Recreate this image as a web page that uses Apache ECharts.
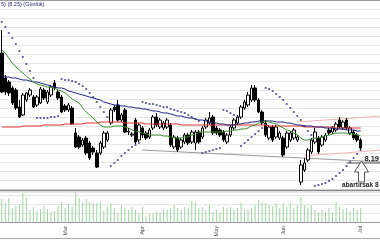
<!DOCTYPE html>
<html><head><meta charset="utf-8">
<script src="https://cdn.jsdelivr.net/npm/echarts@6/dist/echarts.min.js"></script>
<style>html,body{margin:0;padding:0;background:#fff}#c{width:380px;height:240px}</style>
</head><body><div id="c"></div>
<script>
const titleText = '5) (8.25) (Günlük)';
const monthLabels = {18:'Mar', 40:'Apr', 61:'May', 80:'Jun', 102:'Jul'};
const extraSlots = 5;
// [open, close, low, high]
const candles = [
[9.28,8.89,8.88,9.51],[9.03,8.89,8.86,9.06],[8.99,8.88,8.85,9.01],[8.93,8.78,8.76,8.95],[8.91,8.73,8.71,8.93],
[8.74,8.64,8.63,8.81],[8.66,8.86,8.65,8.88],[8.81,8.88,8.79,8.89],[8.86,8.91,8.84,8.93],[8.84,8.74,8.73,8.86],
[8.76,8.84,8.74,8.86],[8.78,8.92,8.77,8.94],[8.91,8.83,8.81,8.93],[8.79,8.89,8.77,8.91],[8.86,8.94,8.84,8.96],
[8.98,8.93,8.91,9.01],[8.89,8.83,8.81,8.91],[8.84,8.69,8.68,8.86],[8.75,8.71,8.69,8.77],[8.71,8.76,8.69,8.78],
[8.73,8.57,8.56,8.75],[8.48,8.34,8.33,8.53],[8.44,8.34,8.32,8.46],[8.36,8.41,8.34,8.43],[8.43,8.28,8.26,8.45],
[8.38,8.23,8.21,8.40],[8.33,8.29,8.26,8.35],[8.28,8.14,8.13,8.31],[8.28,8.38,8.26,8.40],[8.34,8.48,8.32,8.50],
[8.41,8.48,8.39,8.50],[8.58,8.71,8.56,8.73],[8.74,8.71,8.69,8.76],[8.76,8.61,8.59,8.81],[8.61,8.66,8.59,8.68],
[8.71,8.49,8.48,8.73],[8.49,8.50,8.46,8.53],[8.46,8.47,8.44,8.49],[8.61,8.39,8.37,8.63],[8.41,8.56,8.39,8.58],
[8.53,8.46,8.43,8.55],[8.48,8.43,8.41,8.50],[8.44,8.51,8.42,8.53],[8.53,8.64,8.51,8.66],[8.64,8.56,8.54,8.68],
[8.54,8.61,8.52,8.63],[8.53,8.58,8.51,8.60],[8.54,8.61,8.52,8.63],[8.56,8.36,8.34,8.58],[8.34,8.44,8.32,8.46],
[8.43,8.31,8.29,8.45],[8.34,8.41,8.32,8.43],[8.39,8.46,8.37,8.48],[8.46,8.38,8.36,8.48],[8.39,8.49,8.37,8.51],
[8.38,8.49,8.31,8.51],[8.49,8.39,8.37,8.51],[8.44,8.53,8.42,8.55],[8.54,8.61,8.52,8.63],[8.58,8.63,8.56,8.69],
[8.64,8.48,8.46,8.66],[8.53,8.48,8.46,8.55],[8.51,8.46,8.44,8.53],[8.49,8.41,8.39,8.51],[8.39,8.46,8.37,8.48],
[8.46,8.54,8.44,8.56],[8.53,8.61,8.51,8.63],[8.58,8.64,8.56,8.66],[8.64,8.74,8.62,8.76],[8.73,8.79,8.71,8.81],
[8.76,8.86,8.74,8.89],[8.81,8.93,8.79,8.96],[8.93,8.81,8.79,8.96],[8.81,8.69,8.68,8.83],[8.69,8.58,8.56,8.71],
[8.58,8.46,8.44,8.61],[8.43,8.54,8.41,8.56],[8.54,8.41,8.39,8.56],[8.44,8.54,8.42,8.56],[8.43,8.48,8.41,8.50],
[8.43,8.26,8.24,8.45],[8.34,8.48,8.32,8.50],[8.41,8.48,8.39,8.50],[8.43,8.51,8.41,8.53],[8.41,8.44,8.39,8.46],
[7.99,8.16,7.96,8.21],[8.11,8.18,8.09,8.23],[8.21,8.31,8.19,8.33],[8.29,8.41,8.27,8.43],[8.39,8.49,8.37,8.53],
[8.43,8.29,8.27,8.45],[8.36,8.44,8.34,8.46],[8.41,8.46,8.39,8.48],[8.51,8.48,8.46,8.53],[8.49,8.53,8.47,8.55],
[8.51,8.57,8.49,8.59],[8.61,8.54,8.52,8.64],[8.53,8.59,8.51,8.61],[8.61,8.53,8.51,8.63],[8.48,8.53,8.46,8.55],
[8.49,8.43,8.41,8.51],[8.46,8.41,8.39,8.48],[8.41,8.33,8.31,8.43]
];
const volume = [
23,19,24,14,16,18,29,24,12,15, 11,13,16,13,10,11,16,20,14,18,
15,30,24,20,23,20,19,19,20,11, 15,19,14,9,17,14,12,15,12,9,
15,6,8,9,10,9,12,12,14,17, 14,12,15,14,21,20,14,15,12,17,
10,12,10,15,14,15,12,14,19,12, 13,14,17,22,20,19,17,16,19,14,
19,15,19,14,17,25,17,14,17,12, 10,12,10,14,10,20,15,13,14,11,
14,12,14
];
const maShort = [
9.31,9.28,9.23,9.18,9.14,9.11,9.08,9.05,9.02,8.99,
8.97,8.96,8.95,8.94,8.94,8.93,8.91,8.90,8.88,8.85,
8.82,8.80,8.78,8.73,8.69,8.66,8.63,8.59,8.56,8.54,
8.54,8.54,8.55,8.55,8.55,8.54,8.53,8.51,8.50,8.49,
8.48,8.47,8.46,8.46,8.46,8.46,8.45,8.45,8.44,8.43,
8.43,8.43,8.44,8.44,8.46,8.47,8.48,8.49,8.49,8.49,
8.49,8.49,8.49,8.49,8.50,8.50,8.51,8.51,8.52,8.52,
8.53,8.55,8.56,8.58,8.59,8.60,8.59,8.58,8.57,8.55,
8.53,8.51,8.50,8.48,8.46,8.43,8.41,8.41,8.42,8.43,
8.43,8.44,8.45,8.46,8.47,8.48,8.48,8.48,8.48,8.47,
8.47,8.46,8.45
];
const maMid = [
9.05,9.04,9.04,9.03,9.03,9.02,9.01,9.01,9.00,8.99,
8.99,8.98,8.97,8.96,8.95,8.94,8.93,8.93,8.92,8.90,
8.89,8.88,8.87,8.86,8.85,8.84,8.83,8.82,8.81,8.79,
8.78,8.77,8.76,8.76,8.75,8.75,8.74,8.74,8.73,8.73,
8.72,8.72,8.71,8.70,8.70,8.69,8.68,8.68,8.67,8.66,
8.65,8.65,8.64,8.63,8.63,8.62,8.61,8.61,8.60,8.59,
8.58,8.58,8.57,8.57,8.56,8.56,8.56,8.57,8.57,8.58,
8.58,8.59,8.59,8.60,8.60,8.60,8.60,8.60,8.59,8.59,
8.59,8.58,8.58,8.57,8.56,8.56,8.55,8.55,8.55,8.54,
8.54,8.54,8.53,8.53,8.53,8.52,8.52,8.52,8.51,8.51,
8.51,8.50,8.50
];
const maLong = [
8.54,8.54,8.54,8.54,8.54,8.54,8.55,8.55,8.55,8.55,
8.55,8.55,8.56,8.56,8.56,8.56,8.56,8.56,8.57,8.57,
8.57,8.57,8.57,8.57,8.58,8.58,8.58,8.58,8.59,8.59,
8.59,8.59,8.59,8.59,8.59,8.58,8.58,8.58,8.58,8.58,
8.58,8.57,8.57,8.57,8.57,8.57,8.57,8.57,8.57,8.57,
8.57,8.56,8.56,8.56,8.56,8.56,8.56,8.56,8.56,8.56,
8.56,8.56,8.56,8.56,8.56,8.56,8.56,8.56,8.56,8.56,
8.56,8.56,8.56,8.56,8.56,8.56,8.55,8.55,8.55,8.55,
8.55,8.55,8.55,8.55,8.55,8.55,8.54,8.54,8.54,8.54,
8.54,8.54,8.54,8.54,8.54,8.53,8.53,8.53,8.53,8.53,
8.53,8.53,8.53
];
const sar = [
9.59,9.54,9.48,9.43,9.37,9.30,9.24,9.17,9.10,9.03,
8.63,8.63,8.63,8.63,8.64,8.64,8.65,
9.02,9.01,9.01,9.00,8.99,8.97,8.95,8.92,8.88,8.84,8.79,8.74,8.69,8.64,
8.15,8.18,8.21,8.25,8.28,8.31,8.34,8.36,8.38,
8.79,8.78,8.77,8.77,8.76,8.75,8.74,8.74,8.72,8.71,8.70,8.69,8.68,8.66,8.64,8.62,8.60,
8.28,8.29,8.30,8.31,8.32,8.33,
8.71,8.70,8.68,8.66,8.64,
8.35,8.38,8.41,8.44,8.47,8.50,8.53,
8.93,8.92,8.90,8.87,8.84,8.81,8.77,8.73,8.69,8.65,8.61,8.55,8.50,8.46,
7.95,7.96,7.97,7.98,8.00,8.02,8.05,8.08,8.11,8.15,8.19,8.23,8.27,8.31
];
const supportLine = [[40, 8.31], [107.5, 8.19]];
const supportEnd = [[98, 8.18], [107.5, 8.18]];
const pinkLower = [[85.5, 8.25], [107.5, 8.31]];
const pinkUpper = [[84, 8.59], [107.5, 8.65]];
const supportLabel = '8.19';
const noteText = 'abartırsak 8';
const arrowTip = [102, 8.20];

const nCat = candles.length + extraSlots;
const cats = Array.from({length: nCat}, (_, i) => String(i));
const FONT = '"Liberation Sans", Arial, sans-serif';

const chart = echarts.init(document.getElementById('c'), null, {renderer: 'canvas'});
const trend = (data, color, w, z) => ({
  type: 'line', xAxisIndex: 0, yAxisIndex: 0, data, showSymbol: false, symbol: 'none',
  lineStyle: {color, width: w}, silent: true, z, animation: false
});
chart.setOption({
  animation: false,
  grid: [
    {left: 0, width: 380, top: 9, height: 180},
    {left: 0, width: 380, top: 192, height: 30}
  ],
  xAxis: [
    {type: 'category', gridIndex: 0, data: cats, boundaryGap: true,
     axisLine: {show: false}, axisTick: {show: false}, axisLabel: {show: false}, splitLine: {show: false}},
    {type: 'category', gridIndex: 1, data: cats, boundaryGap: true,
     axisLine: {show: false}, axisTick: {show: false}, splitLine: {show: false},
     axisLabel: {show: true, interval: 0, rotate: 90, fontSize: 5.5, color: '#444', margin: 4, fontFamily: FONT,
       formatter: (v, i) => monthLabels[i] || ''}}
  ],
  yAxis: [
    {type: 'value', gridIndex: 0, min: 7.92, max: 9.72, interval: 0.09,
     axisLine: {show: false}, axisTick: {show: false}, axisLabel: {show: false},
     splitLine: {show: true, lineStyle: {color: '#e6e6e6', width: 1}}},
    {type: 'value', gridIndex: 1, min: 0, max: 30, interval: 9,
     axisLine: {show: false}, axisTick: {show: false}, axisLabel: {show: false},
     splitLine: {show: true, lineStyle: {color: '#e6e6e6', width: 1}}}
  ],
  series: [
    {type: 'bar', xAxisIndex: 1, yAxisIndex: 1, data: volume, barWidth: 1,
     itemStyle: {color: '#9ad69a'}, silent: true},
    trend(supportLine, '#9a9a9a', 1, 2),
    trend(supportEnd, '#555', 1, 2),
    trend(pinkLower, '#f2b4b4', 1, 2),
    trend(pinkUpper, '#f2b4b4', 1, 2),
    {type: 'candlestick', xAxisIndex: 0, yAxisIndex: 0, data: candles, barWidth: 3, z: 3,
     itemStyle: {color: '#ffffff', color0: '#000000', borderColor: '#000000', borderColor0: '#000000', borderWidth: 1},
     silent: true},
    {type: 'line', data: maLong, showSymbol: false, symbol: 'none', z: 4, silent: true,
     lineStyle: {color: '#e03434', width: 1.2}},
    {type: 'line', data: maMid, showSymbol: false, symbol: 'none', z: 4, silent: true,
     lineStyle: {color: '#1f1f85', width: 1}},
    {type: 'line', data: maShort, showSymbol: false, symbol: 'none', z: 4, silent: true,
     lineStyle: {color: '#3a8f2a', width: 1}},
    {type: 'scatter', data: sar, symbol: 'circle', symbolSize: 2.2, z: 5, silent: true,
     itemStyle: {color: '#27277a'}}
  ]
});

const tip = chart.convertToPixel({gridIndex: 0}, arrowTip);
const lab = chart.convertToPixel({gridIndex: 0}, supportLine[1]);
const tx = Math.round(tip[0]) + 0.5, ty = Math.round(tip[1]);
chart.setOption({
  graphic: [
    {type: 'line', shape: {x1: 0, y1: 0.5, x2: 380, y2: 0.5}, style: {stroke: '#999', lineWidth: 1}},
    {type: 'line', shape: {x1: 0, y1: 190.5, x2: 380, y2: 190.5}, style: {stroke: '#888', lineWidth: 1.5}},
    {type: 'line', shape: {x1: 0, y1: 222.5, x2: 380, y2: 222.5}, style: {stroke: '#999', lineWidth: 1}},
    {type: 'line', shape: {x1: 0, y1: 238.5, x2: 380, y2: 238.5}, style: {stroke: '#aaa', lineWidth: 1}},
    {type: 'text', left: 1, top: 1, style: {text: titleText, fontSize: 5.5, fill: '#1a1a70', fontFamily: FONT}},
    {type: 'text', x: 379, y: lab[1] + 1, style: {text: supportLabel, fontSize: 7.5, fontWeight: 'bold',
      fill: '#222', align: 'right', verticalAlign: 'bottom', fontFamily: FONT}, z: 10},
    {type: 'polygon', shape: {points: [[tx, ty], [tx + 7, ty + 11], [tx + 3, ty + 11], [tx + 3, ty + 21],
      [tx - 3, ty + 21], [tx - 3, ty + 11], [tx - 7, ty + 11]]},
      style: {fill: '#fff', stroke: '#555', lineWidth: 1}, z: 10},
    {type: 'text', x: 342, y: ty + 24, style: {text: noteText, fontSize: 6.5, fontWeight: 'bold',
      fill: '#222', align: 'left', verticalAlign: 'middle', fontFamily: FONT}, z: 10}
  ]
});
</script></body></html>
